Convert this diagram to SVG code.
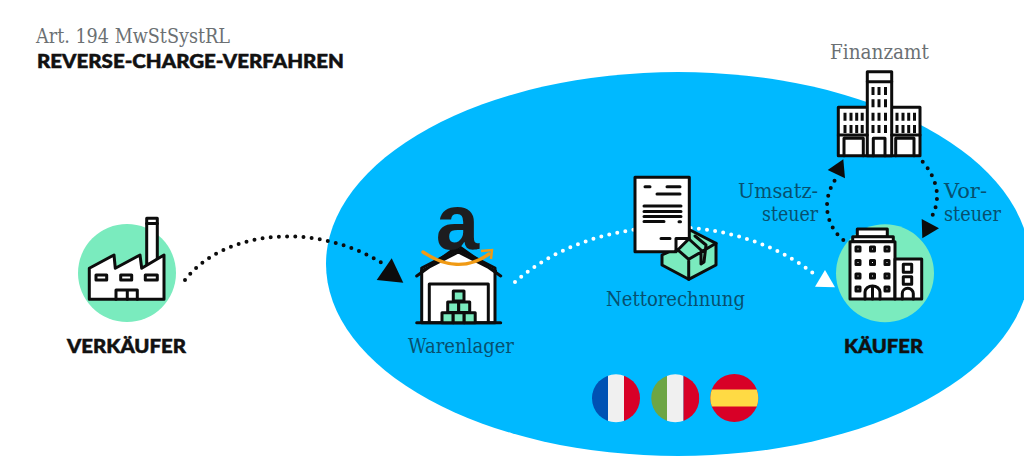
<svg xmlns="http://www.w3.org/2000/svg" width="1024" height="456" viewBox="0 0 1024 456">
<style>
.serif{font-family:"DejaVu Serif","Liberation Serif",serif;font-size:19.500px}
.grey{fill:#6b7073}
.teal{fill:#07506f}
.bold{font-family:Lato,"Open Sans","Liberation Sans",sans-serif;font-weight:900;fill:#111;stroke:#111;stroke-width:.5px}
.ln{fill:none;stroke:#0c0c0c;stroke-width:3;stroke-linejoin:round;stroke-linecap:round}
.wh{fill:#fff;stroke:#0c0c0c;stroke-width:3;stroke-linejoin:round}
.mint{fill:#7aebbe}
.mb{fill:#7aebbe;stroke:#0c0c0c;stroke-width:3;stroke-linejoin:round}
.bk{fill:#0c0c0c}
.dotk{fill:none;stroke:#0c0c0c;stroke-width:4;stroke-linecap:round;stroke-dasharray:0 8.200}
.dotw{fill:none;stroke:#fff;stroke-width:4;stroke-linecap:round;stroke-dasharray:0 8.200}
</style>
<defs>
<clipPath id="cf"><circle cx="616" cy="398.300" r="24"/></clipPath>
<clipPath id="ci"><circle cx="675.300" cy="398.300" r="24"/></clipPath>
<clipPath id="cs"><circle cx="734.300" cy="398" r="24"/></clipPath>
</defs>
<rect width="1024" height="456" fill="#fff"/>
<ellipse id="region" cx="678" cy="264" rx="352" ry="192" fill="#00b9ff"/>
<g id="title">
<text class="serif grey" x="36" y="43" textLength="194" lengthAdjust="spacingAndGlyphs">Art. 194 MwStSystRL</text>
<text class="bold" x="37" y="67.500" font-size="18.500" textLength="307" lengthAdjust="spacingAndGlyphs">REVERSE-CHARGE-VERFAHREN</text>
</g>
<g id="connectors">
<path class="dotk" d="M185 280C225 228 320 222 385 265"/>
<path class="bk" d="M391.700 258.300L376.700 280L403.300 282.700Z"/>
<path class="dotw" d="M515 282C590 215 730 205 818 277"/>
<path class="dotk" d="M843.300 240C825 225 822 200 835 180"/>
<path class="bk" d="M843.300 159.300L827.700 170L845 178.300Z"/>
<path class="dotk" d="M922.700 161.700C938 180 942 200 930 220"/>
<path class="bk" d="M921.700 219L939 228.300L922.300 238.300Z"/>
<path d="M825 270L815 286.700L835 287.300Z" fill="#fff"/>
</g>
<g id="verkaeufer">
<circle class="mint" cx="127" cy="273" r="49"/>
<rect class="wh" x="146.700" y="218.300" width="10.600" height="46"/>
<path class="ln" d="M146.700 223.500H157.300"/>
<path class="wh" d="M89.300 268.300L114 255L115.300 268.300L140 255L141.700 268.300L164 255V299.300H89.300Z"/>
<rect class="ln" x="96" y="275" width="10.700" height="5"/>
<rect class="ln" x="120.700" y="275" width="11" height="5"/>
<rect class="ln" x="145.300" y="275" width="12" height="5"/>
<path class="ln" d="M116 299.300V290H137.300V299.300M127.300 290V299.300"/>
<text class="bold" x="67" y="353" font-size="18.500" textLength="119" lengthAdjust="spacingAndGlyphs">VERKÄUFER</text>
</g>
<g id="warenlager">
<path class="wh" d="M421.700 322.700V268L458.300 249.300L495 268V322.700Z"/>
<path class="ln" d="M416.700 276L458.300 246L500.700 276M421.500 271L458.300 252L495.500 271"/>
<path class="ln" d="M429.300 322.700V284H488.300V322.700M416.700 322.700H500.700"/>
<rect class="mb" x="453.300" y="291" width="10.700" height="10"/>
<rect class="mb" x="447.700" y="302" width="11" height="10.500"/>
<rect class="mb" x="458.700" y="302" width="11" height="10.500"/>
<rect class="mb" x="442" y="312.700" width="11.200" height="10"/>
<rect class="mb" x="453.200" y="312.700" width="11" height="10"/>
<rect class="mb" x="464.200" y="312.700" width="11" height="10"/>
<text x="457.500" y="249" font-family="Liberation Sans,sans-serif" font-weight="700" font-size="78" text-anchor="middle" fill="#1d1d1f">a</text>
<path d="M423 252C445 267 468 269 489 254" fill="none" stroke="#f09a14" stroke-width="3.400" stroke-linecap="round"/>
<path d="M481 251L492 250L491 259" fill="none" stroke="#f09a14" stroke-width="2.400"/>
<text class="serif teal" x="408" y="353" textLength="106" lengthAdjust="spacingAndGlyphs">Warenlager</text>
</g>
<g id="nettorechnung">
<path class="mb" d="M690 230L716 243.300V265L688.700 279.300L662 265V255L676 248.300Z"/>
<path class="ln" d="M676 248.300L688.700 259.300L716 243.300M688.700 259.300V279.300M695 236L706 245L704 262L701 264V250L690 240"/>
<path class="wh" d="M635 177.300H689.300V238L675 251.700H635Z"/>
<path class="wh" d="M676 238.500H689.300L676 251.700Z"/>
<path class="ln" d="M645 186.700H650M667 186.700H680M657 194H680M644 206H681M644 211.500H681M644 216.500H681M644 221.500H664M679 221.700H680.500M661 238.500H670"/>
<text class="serif teal" x="606" y="306" textLength="139" lengthAdjust="spacingAndGlyphs">Nettorechnung</text>
</g>
<g id="finanzamt">
<text class="serif grey" x="830" y="59" textLength="99" lengthAdjust="spacingAndGlyphs">Finanzamt</text>
<rect class="wh" x="838.300" y="107.300" width="81.700" height="48.400"/>
<rect class="wh" x="867.300" y="71.700" width="24.400" height="84"/>
<path class="ln" d="M867.300 81.700H891.700"/>
<path class="ln" d="M844 155.700V138.300H863.300V155.700M873.300 155.700V138.300H885V155.700M895.700 155.700V138.300H914V155.700M838.300 135H867.300M891.700 135H920"/>
<path d="M845 112.700V120.700M851 112.700V120.700M856.700 112.700V120.700M862.200 112.700V120.700M845 125V133M851 125V133M856.700 125V133M862.200 125V133M897 112.700V120.700M903 112.700V120.700M908.700 112.700V120.700M914.500 112.700V120.700M897 125V133M903 125V133M908.700 125V133M914.500 125V133M873 87V95M879 87V95M885.500 87V95M873 99.300V107.300M879 99.300V107.300M885.500 99.300V107.300M873 112.700V120.700M879 112.700V120.700M885.500 112.700V120.700M873 125V133M879 125V133M885.500 125V133" fill="none" stroke="#0c0c0c" stroke-width="3"/>
</g>
<g id="kaeufer">
<circle class="mint" cx="885" cy="273.300" r="49"/>
<rect class="wh" x="857.300" y="229" width="30" height="8"/>
<rect class="wh" x="852.700" y="236.700" width="40.600" height="5"/>
<rect class="wh" x="850" y="241.700" width="45" height="57.300"/>
<rect class="wh" x="895" y="259" width="26.700" height="40"/>
<g class="ln">
<rect x="856" y="247" width="4" height="4"/><rect x="870.500" y="247" width="4" height="4"/><rect x="885" y="247" width="4" height="4"/>
<rect x="856" y="260.500" width="4" height="4"/><rect x="870.500" y="260.500" width="4" height="4"/><rect x="885" y="260.500" width="4" height="4"/>
<rect x="856" y="274" width="4" height="4"/><rect x="870.500" y="274" width="4" height="4"/><rect x="885" y="274" width="4" height="4"/>
<rect x="856" y="287" width="4" height="4"/><rect x="885" y="287" width="4" height="4"/>
<path d="M865 299V292A7.500 6 0 0 1 880 292V299M872.500 286.500V299"/>
<rect x="903.300" y="264.300" width="8.400" height="8"/><rect x="903.300" y="276.700" width="8.400" height="7.600"/>
<path d="M902.300 299V293.500A5.500 5.200 0 0 1 913.300 293.500V299"/>
</g>
<text class="bold" x="844" y="353" font-size="18.500" textLength="79" lengthAdjust="spacingAndGlyphs">KÄUFER</text>
</g>
<g id="label-umsatzsteuer">
<text class="serif teal" x="738" y="198" textLength="80" lengthAdjust="spacingAndGlyphs">Umsatz-</text>
<text class="serif teal" x="762" y="221" textLength="56" lengthAdjust="spacingAndGlyphs">steuer</text>
</g>
<g id="label-vorsteuer">
<text class="serif teal" x="944" y="198" textLength="43" lengthAdjust="spacingAndGlyphs">Vor-</text>
<text class="serif teal" x="944" y="221" textLength="57" lengthAdjust="spacingAndGlyphs">steuer</text>
</g>
<g id="flag-fr" clip-path="url(#cf)">
<rect x="592" y="374" width="16" height="49" fill="#0052b4"/>
<rect x="608" y="374" width="16" height="49" fill="#f0f0f0"/>
<rect x="624" y="374" width="16" height="49" fill="#d80027"/>
</g>
<g id="flag-it" clip-path="url(#ci)">
<rect x="651" y="374" width="16" height="49" fill="#6da544"/>
<rect x="667" y="374" width="16.500" height="49" fill="#f0f0f0"/>
<rect x="683.500" y="374" width="16" height="49" fill="#d80027"/>
</g>
<g id="flag-es" clip-path="url(#cs)">
<rect x="710" y="374" width="49" height="49" fill="#d80027"/>
<rect x="710" y="389.500" width="49" height="17" fill="#ffda44"/>
</g>
</svg>
